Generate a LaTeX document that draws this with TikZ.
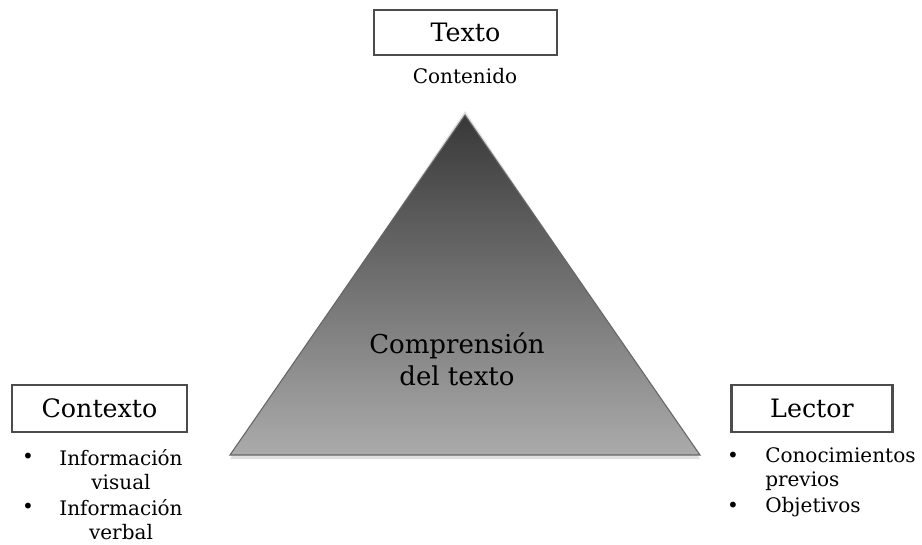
\documentclass[tikz,border=0pt]{standalone}
\usepackage{fontspec}
\setmainfont{DejaVu Serif}
\usepackage{tikz}

\begin{document}
\begin{tikzpicture}[x=0.75pt, y=-0.75pt,
  titlebox/.style={draw=black!70, line width=1.8pt, fill=white, inner sep=0pt, font=\fontsize{19}{22}\selectfont},
  small/.style={inner sep=0pt, font=\fontsize{15}{18}\selectfont},
  bullet/.style={inner sep=0pt, font=\fontsize{15}{18}\selectfont}]
\useasboundingbox (0,0) rectangle (922,544);
% triangle
\coordinate (apex) at (465,115);
\coordinate (bl) at (230,455);
\coordinate (br) at (700,455);
\fill[black!12] ([yshift=-3pt]bl) -- ([yshift=-3pt]br) -- ([yshift=3pt]apex) -- cycle;
\shade[top color=black!78, bottom color=black!33, draw=black!60, line width=0.8pt] (apex) -- (br) -- (bl) -- cycle;
\node[inner sep=0pt, align=center, font=\fontsize{19.5}{24}\selectfont] (comp) at (457,359) {Comprensión\\del texto};
% boxes
\node[titlebox, minimum width=137pt, minimum height=34pt] (texto) at (465.5,32.5) {Texto};
\node[small] (cont) at (465,76) {Contenido};
\node[titlebox, minimum width=131pt, minimum height=35pt] (contexto) at (99.5,408.5) {Contexto};
\node[titlebox, minimum width=121pt, minimum height=35pt] (lector) at (812,408.5) {Lector};
% lists
\node[bullet] (b1) at (28,458) {•};
\node[bullet] (b2) at (28,508) {•};
\node[small, align=center] (vis) at (121,470) {Información\\visual};
\node[small, align=center] (verb) at (121,520) {Información\\verbal};
\node[bullet] (b3) at (733,457) {•};
\node[bullet] (b4) at (733,507) {•};
\node[small, align=left, anchor=west] (conoc) at (765,469) {Conocimientos\\previos};
\node[small, anchor=west] (obj) at (765,507) {Objetivos};
\end{tikzpicture}
\end{document}
